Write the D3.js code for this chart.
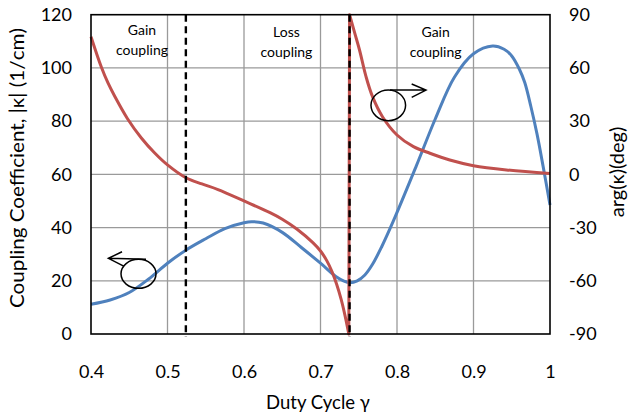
<!DOCTYPE html>
<html>
<head>
<meta charset="utf-8">
<script src="https://cdn.jsdelivr.net/npm/d3@7/dist/d3.min.js"></script>
<style>
  body { margin: 0; background: #fff; }
  svg { display: block; }
  text { font-family: Lato, "Open Sans", sans-serif; fill: #000; }
</style>
</head>
<body>
<div id="chart"></div>
<script>
// |kappa| vs duty cycle (left axis)
var blueGamma = [0.40,0.425,0.45,0.475,0.50,0.524,0.55,0.575,0.60,0.61,0.625,0.65,0.675,0.70,0.72,0.73,0.738,0.748,0.758,0.768,0.78,0.795,0.825,0.85,0.875,0.90,0.925,0.94,0.95,0.96,0.967,0.975,0.983,0.991,1.0];
var blueKappa = [11.2,12.8,15.6,20.6,26.6,31.5,35.8,39.6,41.8,42.2,41.7,38.2,32.5,26.6,21.6,20.0,19.3,20.0,22.2,26.2,32.8,42.3,63.0,80.8,96.5,105.3,108.2,107.0,104.5,99.5,94.5,85.5,75.2,63.0,48.5];

// arg(kappa) vs duty cycle (right axis), two branches with the jump at ~0.737
var redGammaA = [0.40,0.4135,0.4222,0.431,0.4475,0.4658,0.4833,0.50,0.524,0.545,0.566,0.60,0.634,0.65,0.669,0.69,0.70,0.708,0.715,0.721,0.727,0.732,0.737];
var redArgA   = [77.6,60.5,51.5,44.0,31.5,20.5,12.0,5.3,-1.9,-5.4,-8.6,-15.0,-21.6,-25.3,-30.8,-38.5,-43.2,-48.5,-54.8,-61.8,-70.5,-79.5,-90];
var redGammaB = [0.738,0.7445,0.751,0.7595,0.768,0.781,0.80,0.8215,0.843,0.869,0.90,0.943,1.0];
var redArgB   = [90,80.0,70.1,55.1,43.8,32.5,22.2,15.6,11.9,8.1,4.9,2.5,0.5];

// region boundaries (dashed lines)
var boundaries = [0.524, 0.738];

var xTicks = [0.4,0.5,0.6,0.7,0.8,0.9,1.0];
var xTickLabels = ["0.4","0.5","0.6","0.7","0.8","0.9","1"];
var leftTicks = [0,20,40,60,80,100,120];
var rightTicks = [-90,-60,-30,0,30,60,90];

var regionLabels = [
  {g: 0.4667, lines: ["Gain","coupling"], y0: 35},
  {g: 0.6555, lines: ["Loss","coupling"], y0: 37},
  {g: 0.8505, lines: ["Gain","coupling"], y0: 37}
];

var width = 630, height = 414;
var pL = 91, pR = 550, pT = 14.7, pB = 334;

var svg = d3.select("#chart").append("svg")
    .attr("width", width).attr("height", height);

var x = d3.scaleLinear().domain([0.4, 1]).range([pL, pR]);
var yL = d3.scaleLinear().domain([0, 120]).range([pB, pT]);
var yR = d3.scaleLinear().domain([-90, 90]).range([pB, pT]);

// gridlines
svg.append("g").selectAll("line")
  .data(leftTicks.slice(1, -1)).enter().append("line")
  .attr("x1", pL).attr("x2", pR)
  .attr("y1", function(d) { return yL(d); })
  .attr("y2", function(d) { return yL(d); })
  .attr("stroke", "#9a9a9a").attr("stroke-width", 1.3);

svg.append("g").selectAll("line")
  .data(xTicks.slice(1, -1)).enter().append("line")
  .attr("y1", pT).attr("y2", pB)
  .attr("x1", function(d) { return x(d); })
  .attr("x2", function(d) { return x(d); })
  .attr("stroke", "#9a9a9a").attr("stroke-width", 1.3);

// axes (labels only)
var axL = svg.append("g").attr("transform", "translate(" + pL + ",0)")
  .call(d3.axisLeft(yL).tickValues(leftTicks).tickSize(0).tickPadding(19));
var axR = svg.append("g").attr("transform", "translate(" + pR + ",0)")
  .call(d3.axisRight(yR).tickValues(rightTicks).tickSize(0).tickPadding(19)
    .tickFormat(function(d) { return String(d); }));
var axB = svg.append("g").attr("transform", "translate(0," + pB + ")")
  .call(d3.axisBottom(x).tickValues(xTicks).tickSize(0).tickPadding(31)
    .tickFormat(function(d, i) { return xTickLabels[i]; }));

[axL, axR, axB].forEach(function(a) {
  a.select(".domain").remove();
  a.selectAll("text").attr("font-size", 18).attr("font-family", "Lato, sans-serif").attr("fill", "#000");
});

// curves
var blueData = blueGamma.map(function(g, i) { return [g, blueKappa[i]]; });
var redA = redGammaA.map(function(g, i) { return [g, redArgA[i]]; });
var redB = redGammaB.map(function(g, i) { return [g, redArgB[i]]; });

var lineL = d3.line().x(function(d) { return x(d[0]); }).y(function(d) { return yL(d[1]); })
  .curve(d3.curveCatmullRom.alpha(0.5));
var lineR = d3.line().x(function(d) { return x(d[0]); }).y(function(d) { return yR(d[1]); })
  .curve(d3.curveCatmullRom.alpha(0.5));

svg.append("path").attr("d", lineL(blueData))
  .attr("fill", "none").attr("stroke", "#4f81bd").attr("stroke-width", 3)
  .attr("stroke-linejoin", "round");

svg.append("path").attr("d", lineR(redA) + lineR(redB).replace(/^M/, "L"))
  .attr("fill", "none").attr("stroke", "#c0504d").attr("stroke-width", 3)
  .attr("stroke-linejoin", "round");

// dashed boundaries
svg.append("g").selectAll("line")
  .data(boundaries).enter().append("line")
  .attr("x1", function(d) { return x(d); }).attr("x2", function(d) { return x(d); })
  .attr("y1", pT).attr("y2", pB + 3)
  .attr("stroke", "#000").attr("stroke-width", 2.4)
  .attr("stroke-dasharray", "7,4.5");

// plot frame
svg.append("rect")
  .attr("x", pL).attr("y", pT)
  .attr("width", pR - pL).attr("height", pB - pT)
  .attr("fill", "none").attr("stroke", "#000").attr("stroke-width", 1.6);

// region labels
regionLabels.forEach(function(r) {
  var t = svg.append("text").attr("text-anchor", "middle").attr("font-size", 14)
    .attr("fill", "#111");
  r.lines.forEach(function(s, i) {
    t.append("tspan").attr("x", x(r.g)).attr("y", r.y0 + i * 20).text(s);
  });
});

// axis markers: ellipse + arrow pointing to the axis each curve belongs to
function marker(cg, cv, scale, rx, ry, a) {
  var cx = x(cg), cy = scale(cv);
  var g = svg.append("g").attr("fill", "none").attr("stroke", "#000").attr("stroke-width", 1.5);
  g.append("ellipse").attr("cx", cx).attr("cy", cy).attr("rx", rx).attr("ry", ry);
  function p(v) { return (cx + v[0]) + "," + (cy + v[1]); }
  g.append("path").attr("d",
    "M" + p(a.start) + "L" + p(a.tip) +
    "M" + p(a.h1) + "L" + p(a.tip) + "L" + p(a.h2));
}
marker(0.4621, 22.6, yL, 17.5, 14.5,
  {start: [7.5, -14.5], tip: [-30.1, -15.5], h1: [-16.5, -22.1], h2: [-14.8, -7.8]});
marker(0.7886, 38.9, yR, 17.3, 15.3,
  {start: [1.7, -15.3], tip: [37.7, -15.3], h1: [23.4, -21.3], h2: [23.4, -8]});

// axis titles
svg.append("text")
  .attr("transform", "translate(24," + 168 + ") rotate(-90)")
  .attr("text-anchor", "middle").attr("font-size", 20)
  .attr("textLength", 280).attr("lengthAdjust", "spacingAndGlyphs")
  .text("Coupling Coefficient, |\u03ba| (1/cm)");

svg.append("text")
  .attr("transform", "translate(624," + 172 + ") rotate(-90)")
  .attr("text-anchor", "middle").attr("font-size", 20)
  .text("arg(\u03ba)(deg)");

svg.append("text")
  .attr("x", 318).attr("y", 409)
  .attr("text-anchor", "middle").attr("font-size", 18.5)
  .text("Duty Cycle \u03b3");
</script>
</body>
</html>
